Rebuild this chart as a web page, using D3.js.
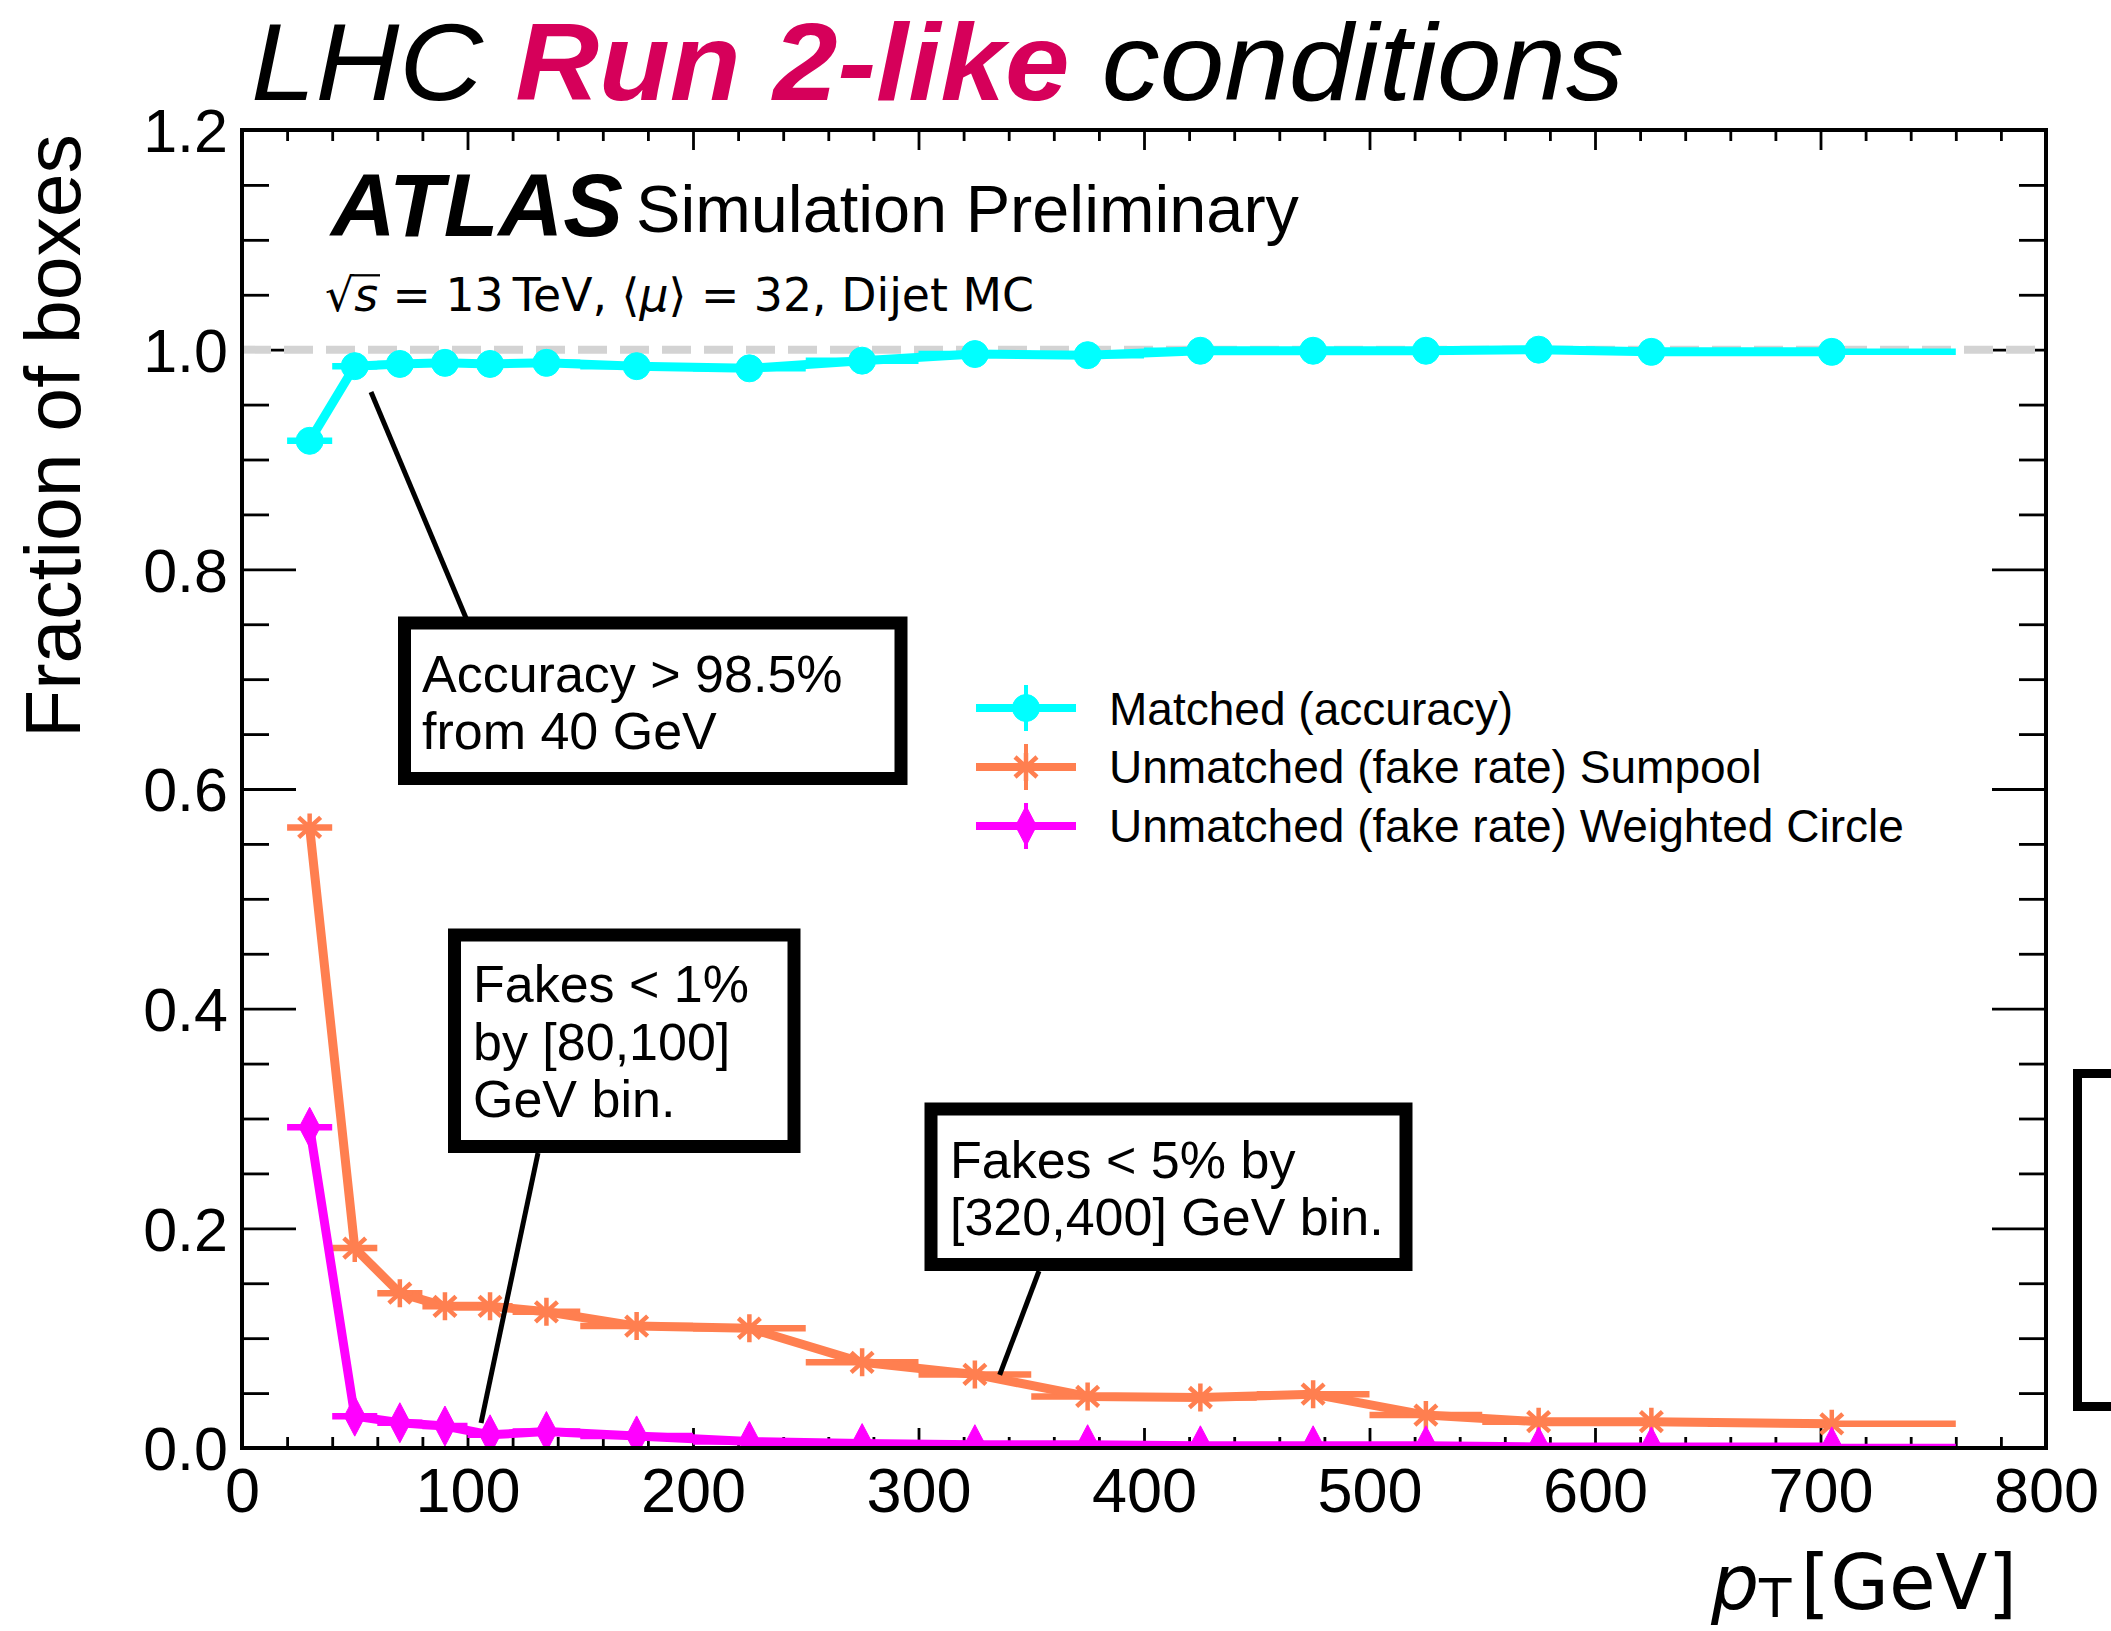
<!DOCTYPE html>
<html>
<head>
<meta charset="utf-8">
<script src="https://cdn.jsdelivr.net/npm/d3@7"></script>
<style>
  html, body { margin: 0; padding: 0; background: #ffffff; }
  svg { display: block; }
</style>
</head>
<body>
<svg id="chart" width="2111" height="1631"></svg>
<script>
// ---- data: jet pT bins [GeV] and fraction of boxes per bin ----
const binLow  = [20, 40, 60, 80, 100, 120, 150, 200, 250, 300, 350, 400, 450, 500, 550, 600, 650];
const binHigh = [40, 60, 80, 100, 120, 150, 200, 250, 300, 350, 400, 450, 500, 550, 600, 650, 760];

const matched      = [0.917, 0.985, 0.987, 0.988, 0.987, 0.988, 0.985, 0.983, 0.990, 0.996, 0.995, 0.999, 0.999, 0.999, 1.000, 0.998, 0.998];
const fakeSumpool  = [0.565, 0.182, 0.141, 0.129, 0.129, 0.124, 0.111, 0.109, 0.078, 0.067, 0.047, 0.046, 0.049, 0.030, 0.024, 0.024, 0.022];
const fakeWeighted = [0.292, 0.029, 0.023, 0.020, 0.012, 0.015, 0.011, 0.006, 0.004, 0.003, 0.003, 0.002, 0.002, 0.002, 0.001, 0.001, 0.001];

const seriesLabels = [
  "Matched (accuracy)",
  "Unmatched (fake rate) Sumpool",
  "Unmatched (fake rate) Weighted Circle"
];

const xMajorTicks = [0, 100, 200, 300, 400, 500, 600, 700, 800];
const yMajorTicks = [0, 0.2, 0.4, 0.6, 0.8, 1.0, 1.2];

const annotationLines = [
  ["Accuracy > 98.5%", "from 40 GeV"],
  ["Fakes < 1%", "by [80,100]", "GeV bin."],
  ["Fakes < 5% by", "[320,400] GeV bin."]
];

// ---- layout ----
const FONT = "'Liberation Sans', Arial, Helvetica, sans-serif";
const MATHFONT = "'DejaVu Sans', 'Liberation Sans', sans-serif";

const svg = d3.select("#chart");
const x = d3.scaleLinear().domain([0, 800]).range([242, 2046]);
const y = d3.scaleLinear().domain([0, 1.2]).range([1448, 130]);

const colors = ["#00ffff", "#ff7f50", "#ff00ff"];

// scale a text's font so that its advance matches a given width
function fitWidth(sel, target) {
  const w = sel.node().getComputedTextLength();
  const fs = parseFloat(sel.attr("font-size"));
  if (w > 0) sel.attr("font-size", (fs * target / w).toFixed(2));
}

// ---- axes (ticks point inward on all four sides) ----
function styleAxis(g) {
  g.select(".domain").remove();
  g.selectAll(".tick line").attr("stroke", "#000").attr("stroke-width", 2.8);
}

const xMinor = d3.range(0, 801, 20).filter(v => v % 100 !== 0);
const yMinor = d3.range(0, 1.2001, 0.05).filter(v => Math.abs(v / 0.2 - Math.round(v / 0.2)) > 1e-6);

const axes = svg.append("g");

const gxBottom = axes.append("g")
  .attr("transform", `translate(0,${y(0)})`)
  .call(d3.axisBottom(x).tickValues(xMajorTicks).tickSize(-20).tickFormat(d3.format("d")))
  .attr("font-family", FONT).attr("font-size", 63);
styleAxis(gxBottom);
gxBottom.selectAll(".tick text").attr("y", 64).attr("dy", null).attr("fill", "#000");

axes.append("g")
  .attr("transform", `translate(0,${y(0)})`)
  .call(d3.axisBottom(x).tickValues(xMinor).tickSize(-11).tickFormat(""))
  .call(styleAxis);

axes.append("g")
  .attr("transform", `translate(0,${y(1.2)})`)
  .call(d3.axisTop(x).tickValues(xMajorTicks).tickSize(-20).tickFormat(""))
  .call(styleAxis);
axes.append("g")
  .attr("transform", `translate(0,${y(1.2)})`)
  .call(d3.axisTop(x).tickValues(xMinor).tickSize(-11).tickFormat(""))
  .call(styleAxis);

const gyLeft = axes.append("g")
  .attr("transform", `translate(${x(0)},0)`)
  .call(d3.axisLeft(y).tickValues(yMajorTicks).tickSize(-54).tickPadding(14).tickFormat(d3.format(".1f")))
  .attr("font-family", FONT).attr("font-size", 61);
styleAxis(gyLeft);
gyLeft.selectAll(".tick text").attr("x", -14).attr("dy", "0.36em").attr("fill", "#000");

axes.append("g")
  .attr("transform", `translate(${x(0)},0)`)
  .call(d3.axisLeft(y).tickValues(yMinor).tickSize(-27).tickFormat(""))
  .call(styleAxis);
axes.append("g")
  .attr("transform", `translate(${x(800)},0)`)
  .call(d3.axisRight(y).tickValues(yMajorTicks).tickSize(-54).tickFormat(""))
  .call(styleAxis);
axes.append("g")
  .attr("transform", `translate(${x(800)},0)`)
  .call(d3.axisRight(y).tickValues(yMinor).tickSize(-27).tickFormat(""))
  .call(styleAxis);

// reference line at unity
svg.append("line")
  .attr("x1", x(0)).attr("x2", x(800))
  .attr("y1", y(1)).attr("y2", y(1))
  .attr("stroke", "#d3d3d3").attr("stroke-width", 8)
  .attr("stroke-dasharray", "29,13");

// ---- data series ----
svg.append("clipPath").attr("id", "plotArea")
  .append("rect").attr("x", x(0)).attr("y", y(1.2))
  .attr("width", x(800) - x(0)).attr("height", y(0) - y(1.2));

const plot = svg.append("g").attr("clip-path", "url(#plotArea)");

const markerShapes = [
  // filled circle
  g => g.append("circle").attr("r", 13.5),
  // asterisk
  g => g.append("path")
        .attr("d", "M0,-14V14M-13,0H13M-11,-10L11,10M-11,10L11,-10")
        .attr("fill", "none").attr("stroke-width", 4.5),
  // thin diamond
  g => g.append("path").attr("d", "M0,-20L10.5,0L0,20L-10.5,0Z")
];

const allSeries = [matched, fakeSumpool, fakeWeighted];

allSeries.forEach((vals, si) => {
  const pts = vals.map((v, i) => ({ lo: binLow[i], hi: binHigh[i], c: (binLow[i] + binHigh[i]) / 2, v }));
  const g = plot.append("g");

  // horizontal bin-width bars
  g.selectAll("line.xerr").data(pts).join("line")
    .attr("class", "xerr")
    .attr("x1", d => x(d.lo)).attr("x2", d => x(d.hi))
    .attr("y1", d => y(d.v)).attr("y2", d => y(d.v))
    .attr("stroke", colors[si]).attr("stroke-width", 6.5);

  // connecting line
  g.append("path")
    .datum(pts)
    .attr("d", d3.line().x(d => x(d.c)).y(d => y(d.v)))
    .attr("fill", "none").attr("stroke", colors[si])
    .attr("stroke-width", 9).attr("stroke-linejoin", "round");

  // markers
  g.selectAll("g.marker").data(pts).join("g")
    .attr("class", "marker")
    .attr("transform", d => `translate(${x(d.c)},${y(d.v)})`)
    .attr("fill", colors[si]).attr("stroke", colors[si])
    .each(function () { markerShapes[si](d3.select(this)); });
});

// frame
svg.append("rect")
  .attr("x", x(0)).attr("y", y(1.2))
  .attr("width", x(800) - x(0)).attr("height", y(0) - y(1.2))
  .attr("fill", "none").attr("stroke", "#000").attr("stroke-width", 4);

// ---- legend ----
const legendRowY = [708, 767, 826];
const legendBaseline = [725, 783, 842];
const legend = svg.append("g");
seriesLabels.forEach((label, i) => {
  const row = legend.append("g").attr("transform", `translate(1026,${legendRowY[i]})`);
  row.append("line").attr("x1", -50).attr("x2", 50)
    .attr("stroke", colors[i]).attr("stroke-width", 8);
  row.append("line").attr("y1", -23).attr("y2", 23)
    .attr("stroke", colors[i]).attr("stroke-width", 4);
  const m = row.append("g").attr("fill", colors[i]).attr("stroke", colors[i]);
  markerShapes[i](m);
});
const legendTexts = seriesLabels.map((label, i) =>
  legend.append("text")
    .attr("x", 1109).attr("y", legendBaseline[i])
    .attr("font-family", FONT).attr("font-size", 46).attr("fill", "#000")
    .text(label));
fitWidth(legendTexts[2], 795);
const legendFs = legendTexts[2].attr("font-size");
legendTexts.forEach(t => t.attr("font-size", legendFs));

// ---- annotation boxes with leader lines ----
const boxes = [
  { x: 404.5, y: 623, w: 496.5, h: 155.5, tx: 422, base: [691.5, 749.3], from: [466, 618], to: [57.2, 0.9615] },
  { x: 454.5, y: 935, w: 339.5, h: 211.5, tx: 473, base: [1002, 1060, 1117], from: [538, 1153], to: [106, 0.0228] },
  { x: 931, y: 1109, w: 475, h: 155.5, tx: 950, base: [1178, 1235], from: [1039, 1271], to: [336, 0.0665] }
];
boxes.forEach((b, i) => {
  svg.append("line")
    .attr("x1", b.from[0]).attr("y1", b.from[1])
    .attr("x2", x(b.to[0])).attr("y2", y(b.to[1]))
    .attr("stroke", "#000").attr("stroke-width", 5);
  svg.append("rect")
    .attr("x", b.x).attr("y", b.y).attr("width", b.w).attr("height", b.h)
    .attr("fill", "#fff").attr("stroke", "#000").attr("stroke-width", 13);
  annotationLines[i].forEach((line, j) => {
    svg.append("text")
      .attr("x", b.tx).attr("y", b.base[j])
      .attr("font-family", FONT).attr("font-size", 52).attr("fill", "#000")
      .text(line);
  });
});
// box partly outside the right edge
svg.append("rect")
  .attr("x", 2077.5).attr("y", 1073.5).attr("width", 200).attr("height", 333)
  .attr("fill", "#fff").attr("stroke", "#000").attr("stroke-width", 9);

// ---- titles and labels ----
const title = svg.append("text")
  .attr("x", 251).attr("y", 100)
  .attr("font-family", FONT).attr("font-size", 109).attr("font-style", "italic")
  .attr("fill", "#000")
  .attr("textLength", 1373).attr("lengthAdjust", "spacingAndGlyphs");
title.append("tspan").text("LHC ");
title.append("tspan").attr("font-weight", "bold").attr("fill", "#d6005a").text("Run 2-like");
title.append("tspan").text(" conditions");

const atlas = svg.append("text")
  .attr("x", 331).attr("y", 236)
  .attr("font-family", FONT).attr("font-size", 88)
  .attr("font-weight", "bold").attr("font-style", "italic").attr("fill", "#000")
  .text("ATLAS");
fitWidth(atlas, 292);

const sim = svg.append("text")
  .attr("x", 636).attr("y", 232)
  .attr("font-family", FONT).attr("font-size", 67).attr("fill", "#000")
  .text("Simulation Preliminary");
fitWidth(sim, 663);

const energy = svg.append("text")
  .attr("x", 325).attr("y", 311)
  .attr("font-family", MATHFONT).attr("font-size", 43).attr("fill", "#000");
energy.append("tspan").text("\u221A");
energy.append("tspan").attr("font-style", "italic").text("s");
energy.append("tspan").text(" = 13\u2009TeV, \u27E8");
energy.append("tspan").attr("font-style", "italic").text("\u03BC");
energy.append("tspan").text("\u27E9 = 32, Dijet MC");
fitWidth(energy, 709);
{
  // overbar of the square root across "s"
  const node = energy.node();
  const fs = parseFloat(energy.attr("font-size"));
  const s1 = node.getEndPositionOfChar(1);
  const r0 = node.getStartPositionOfChar(0);
  const rootW = node.getEndPositionOfChar(0).x - r0.x;
  svg.append("line")
    .attr("x1", r0.x + rootW * 0.9).attr("x2", s1.x + 2)
    .attr("y1", 311 - fs * 0.78).attr("y2", 311 - fs * 0.78)
    .attr("stroke", "#000").attr("stroke-width", fs * 0.05);
}

const yLabel = svg.append("text")
  .attr("transform", "translate(80,134) rotate(-90)")
  .attr("text-anchor", "end")
  .attr("font-family", FONT).attr("font-size", 79).attr("fill", "#000")
  .text("Fraction of boxes");
fitWidth(yLabel, 604);

const xLabel = svg.append("text")
  .attr("x", 2017).attr("y", 1609)
  .attr("text-anchor", "end")
  .attr("font-family", MATHFONT).attr("font-size", 68).attr("fill", "#000");
xLabel.append("tspan").attr("font-style", "italic").text("p");
xLabel.append("tspan").attr("font-size", "0.7em").attr("dy", "0.15em").text("T");
xLabel.append("tspan").attr("dy", "-0.105em").attr("dx", "0.12em").text("[GeV]");
fitWidth(xLabel, 297);
</script>
</body>
</html>
